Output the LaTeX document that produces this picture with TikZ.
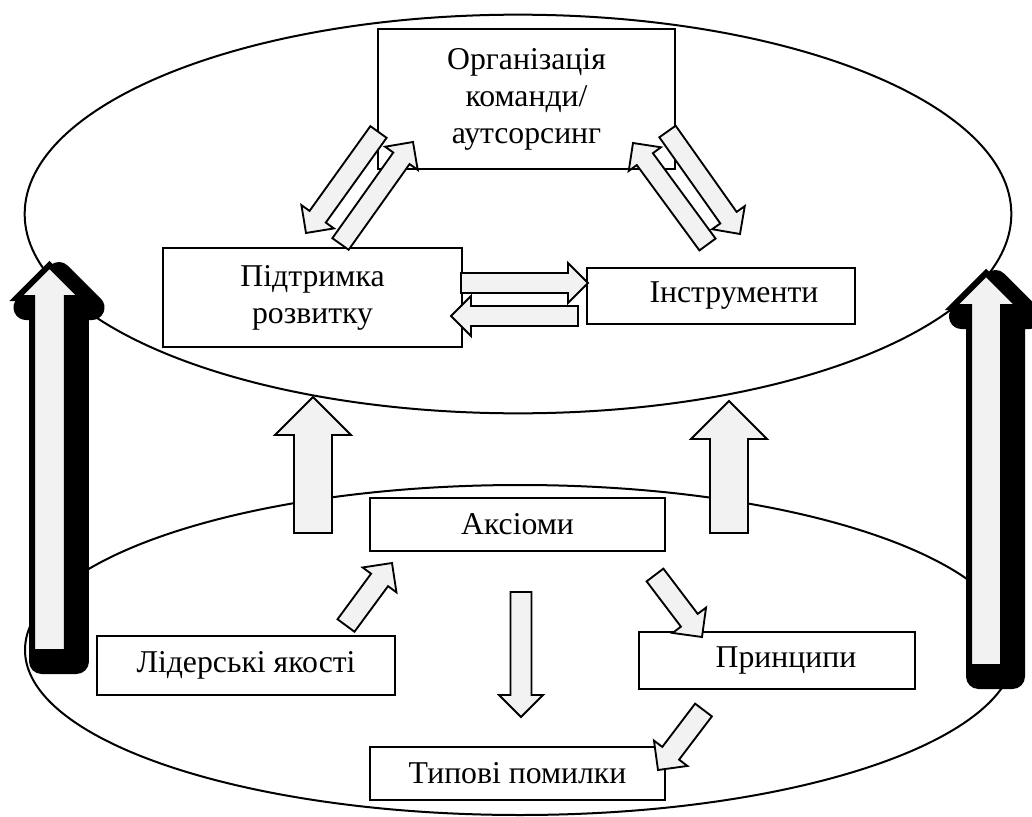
\documentclass[tikz,border=0pt]{standalone}
\usepackage{fontspec}
\setmainfont{Liberation Serif}
\usetikzlibrary{calc}
\definecolor{arrgray}{HTML}{F2F2F2}
\tikzset{
box/.style 2 args = {draw, fill=white, line width=0.8pt, inner sep=0pt, align=center,
  minimum width=#1*0.75pt, minimum height=#2*0.75pt},
layer/.style = {draw, line width=1.5pt},
blockarr/.style = {draw, fill=arrgray, line width=1.4pt, line join=miter},
bigarr/.style = {draw, fill=arrgray, line width=4.5pt, line join=miter},
bigshadow/.style = {draw, fill=black, line width=18.75pt, line join=round,
  transform canvas={shift={(9.5,9.5)}}}
}
% block arrow: [style] {tail} {tip} {half shaft} {half head}
\newcommand\blockarrow[5][blockarr]{%
  \draw[#1] ($(#2)!#4!90:(#3)$) -- ($($(#3)!#5!(#2)$)!#4!90:(#3)$)
    -- ($($(#3)!#5!(#2)$)!#5!90:(#3)$) -- (#3)
    -- ($($(#3)!#5!(#2)$)!#5!-90:(#3)$) -- ($($(#3)!#5!(#2)$)!#4!-90:(#3)$)
    -- ($(#2)!#4!-90:(#3)$) -- cycle;}

\begin{document}
\begin{tikzpicture}[x=0.75pt, y=-0.75pt, font=\fontsize{23.8}{27.75}\selectfont]
\useasboundingbox (0,0) rectangle (1032,817);

% the two levels
\draw[layer] (518,214) ellipse [x radius=370pt, y radius=149.5pt];
\draw[layer] (520,650) ellipse [x radius=371.25pt, y radius=123.75pt];

% upper level
\node[box={297}{140}] (org) at (526.5,99) {Організація\\команди/\\аутсорсинг};
\node[box={299}{99}] (sup) at (312.5,297.5) {Підтримка\\розвитку};
\node[box={268}{56}] (tools) at (721,296) {\hspace*{19.5pt}Інструменти};

% lower level
\node[box={295}{53}] (ax) at (517.5,524.5) {Аксіоми};
\node[box={298}{59}] (lead) at (246,665.5) {Лідерські якості};
\node[box={276}{57}] (prin) at (777,660.5) {\hspace*{13.5pt}Принципи};
\node[box={295}{53}] (err) at (517.5,773.5) {Типові помилки};

% arrow ends
\coordinate (os1) at (378.5,132); \coordinate (os2) at (306,233);
\coordinate (so1) at (340.5,244); \coordinate (so2) at (413,142);
\coordinate (ot1) at (667.5,131.5); \coordinate (ot2) at (740,234);
\coordinate (to1) at (707.5,244.5); \coordinate (to2) at (633,143);
\coordinate (st1) at (461,283); \coordinate (st2) at (588,283);
\coordinate (ts1) at (578,316); \coordinate (ts2) at (451,316);
\coordinate (la1) at (346,625.5); \coordinate (la2) at (392,563);
\coordinate (ae1) at (521,592); \coordinate (ae2) at (521,717);
\coordinate (ap1) at (655,575); \coordinate (ap2) at (702,637);
\coordinate (pe1) at (703.5,710); \coordinate (pe2) at (658,770);
\coordinate (up1) at (313,533); \coordinate (up2) at (313,397);
\coordinate (uq1) at (729,533); \coordinate (uq2) at (729,401);
\coordinate (bl1) at (49.5,652); \coordinate (bl2) at (49.5,265);
\coordinate (br1) at (986,667); \coordinate (br2) at (986,273);

% upper level arrows
\blockarrow{os1}{os2}{7.5pt}{15pt}
\blockarrow{so1}{so2}{7.5pt}{15pt}
\blockarrow{ot1}{ot2}{7.5pt}{15pt}
\blockarrow{to1}{to2}{7.5pt}{15pt}
\blockarrow{st1}{st2}{7.5pt}{15pt}
\blockarrow{ts1}{ts2}{7.5pt}{15pt}

% lower level arrows
\blockarrow{la1}{la2}{7.9pt}{15.75pt}
\blockarrow{ae1}{ae2}{7.9pt}{16.5pt}
\blockarrow{ap1}{ap2}{7.9pt}{15.75pt}
\blockarrow{pe1}{pe2}{7.9pt}{15.75pt}

% between the levels
\blockarrow{up1}{up2}{14.25pt}{28.5pt}
\blockarrow{uq1}{uq2}{14.25pt}{28.5pt}

% big arrows at the sides
\blockarrow[bigshadow]{bl1}{bl2}{13.1pt}{24.75pt}
\blockarrow[bigarr]{bl1}{bl2}{13.1pt}{24.75pt}
\blockarrow[bigshadow]{br1}{br2}{12.75pt}{25.5pt}
\blockarrow[bigarr]{br1}{br2}{12.75pt}{25.5pt}
\end{tikzpicture}
\end{document}
